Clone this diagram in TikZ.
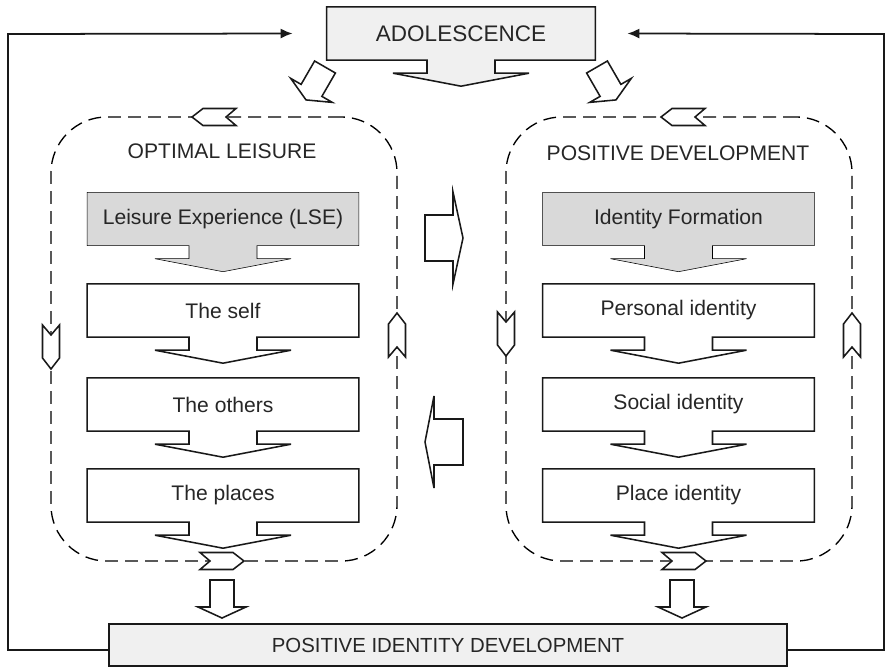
\documentclass[tikz,border=0pt]{standalone}
\usepackage{fontspec}
\setmainfont{Liberation Sans}
\usetikzlibrary{arrows.meta,calc,backgrounds}

\tikzset{
  box/.style={minimum width=6.78cm, minimum height=1.32cm, inner sep=0pt, text=black!85, font=\fontsize{15}{18}\selectfont},
  title/.style={text=black!85, font=\fontsize{15}{18}\selectfont},
  frame/.style={draw, line width=0.95pt, dash pattern=on 0.32cm off 0.18cm, rounded corners=1.4cm, minimum width=8.65cm, minimum height=11.1cm},
  blk/.style={line width=1.1pt, black!90},
  feedback/.style={line width=1.25pt, black!90, -{Latex[length=3mm,width=2.5mm]}}
}

% box with a block arrow below it
\newcommand{\callout}[2]{\begin{scope}[on background layer]
  \draw[#2] (#1.north west) -- (#1.north east) -- (#1.south east) -- ($(#1.south)+(34,0)$) -- ++(0,13) -- ++(34,0)
    -- ($(#1.south)+(0,26)$) -- ($(#1.south)+(-68,13)$) -- ++(34,0) -- ++(0,-13) -- (#1.south west) -- cycle;
  \end{scope}}
% hollow arrow: x, y, angle, shaft length, shaft half width, head length
\newcommand{\hollowarrow}[6]{\draw[blk,fill=white,rotate around={#3:(#1,#2)}] (#1,#2) ++(0,-#5) -- ++(#4,0) -- ++(0,-#5)
  -- ++(#6,2*#5) -- ++(-#6,2*#5) -- ++(0,-#5) -- ++(-#4,0) -- cycle;}
% chevron on the dashed frames: x, y, angle
\newcommand{\chevron}[3]{\draw[blk,fill=white,rotate around={#3:(#1,#2)}] (#1,#2) ++(-22,-8.5) -- ++(33,0) -- ++(11,8.5)
  -- ++(-11,8.5) -- ++(-33,0) -- ++(10,-8.5) -- cycle;}

\begin{document}
\begin{tikzpicture}[x=0.025cm,y=-0.025cm]
  \useasboundingbox (0,0) rectangle (886,667);

  \node[box, minimum width=6.7cm, font=\fontsize{16}{19}\selectfont] (adol) at (461,33.5) {ADOLESCENCE};
  \callout{adol}{blk,fill=black!6}

  \node[frame] (leisure) at (224,339) {};
  \node[frame] (develop) at (679,339) {};
  \node[title] (leisuretitle) at (222,151) {OPTIMAL LEISURE};
  \node[title] (developtitle) at (678,153) {POSITIVE DEVELOPMENT};

  \node[box] (lse) at (223,219) {Leisure Experience (LSE)};
  \node[box] (idform) at (678.5,219) {Identity Formation};
  \callout{lse}{fill=black!15}
  \callout{idform}{fill=black!15}

  \foreach \name/\x/\y/\txt in {self/223/310.5/The self, others/223/404.5/The others, places/223/495.5/The places,
      personal/678.5/310.5/Personal identity, social/678.5/404.5/Social identity, placeid/678.5/495.5/Place identity}
    {\node[box] (\name) at (\x,\y) {\txt};
     \callout{\name}{blk}}

  \foreach \x/\y/\a in {214/117/180, 222/561/0, 51/347/-90, 397/335/90, 683/117/180, 684/561/0, 506/334/-90, 852/335/90}
    {\chevron{\x}{\y}{\a}}

  % block arrows
  \hollowarrow{325}{67}{-120}{27}{12}{11}
  \hollowarrow{597}{67}{-60}{27}{12}{11}
  \hollowarrow{425}{238}{0}{28}{23}{10}
  \hollowarrow{463}{442}{180}{29}{23}{9}
  \hollowarrow{222}{580}{-90}{27}{12}{11}
  \hollowarrow{682}{580}{-90}{27}{12}{11}

  \node[draw, blk, fill=black!6, minimum width=16.95cm, minimum height=1.05cm, text=black!85,
    font=\fontsize{14.5}{17}\selectfont] (pid) at (448,645) {POSITIVE IDENTITY DEVELOPMENT};

  % feedback loops
  \draw[feedback] ($(pid.west)+(0,5)$) -| (8,34) -- ([xshift=-0.85cm]adol.west);
  \draw[feedback] ($(pid.east)+(0,5)$) -| (884,34) -- ([xshift=0.8cm]adol.east);
\end{tikzpicture}
\end{document}
